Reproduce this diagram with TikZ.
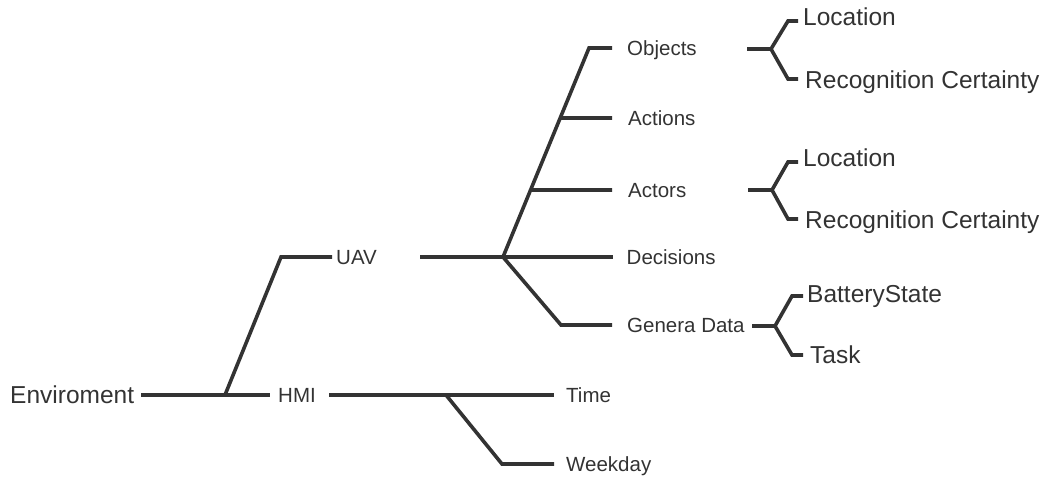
\documentclass[tikz,border=0pt]{standalone}
\usepackage{fontspec}
\setmainfont{Liberation Sans}
\usetikzlibrary{calc}
\definecolor{ink}{HTML}{333333}
\begin{document}
\begin{tikzpicture}[x=1pt,y=-1pt,
  branch/.style={line width=3.6pt, draw=ink},
  biglabel/.style={anchor=base west, inner sep=0pt, text=ink, font=\fontsize{24.5}{28}\selectfont},
  smalllabel/.style={anchor=base west, inner sep=0pt, text=ink, font=\fontsize{20.5}{24}\selectfont}]
\useasboundingbox (0,0) rectangle (1048,477);

% ---- labels ----
\node[biglabel]   (env)  at (10,403.5) {Enviroment};
\node[smalllabel] (uav)  at (336,264)  {UAV};
\node[smalllabel] (hmi)  at (278,402)  {HMI};
\node[smalllabel] (obj)  at (627,55)   {Objects};
\node[smalllabel] (act)  at (628,125)  {Actions};
\node[smalllabel] (acr)  at (628,197)  {Actors};
\node[smalllabel] (dec)  at (626.5,264) {Decisions};
\node[smalllabel] (gen)  at (627,332)  {Genera Data};
\node[smalllabel] (tim)  at (566,402)  {Time};
\node[smalllabel] (wkd)  at (566,471)  {Weekday};
\node[biglabel]   (loc1) at (803,25.5) {Location};
\node[biglabel]   (rec1) at (805,88)   {Recognition Certainty};
\node[biglabel]   (loc2) at (803,166)  {Location};
\node[biglabel]   (rec2) at (805,228)  {Recognition Certainty};
\node[biglabel]   (bat)  at (807,302)  {BatteryState};
\node[biglabel]   (tsk)  at (810,363)  {Task};

% ---- root fork ----
\coordinate (envR) at (141,395);
\coordinate (j0)   at (225,395);
\coordinate (hmiL) at (270,395);
\coordinate (uavC) at (281,257);
\coordinate (uavL) at (332,257);
\draw[branch] (envR) -- (j0) -- (hmiL);
\draw[branch] (j0) -- (uavC) -- (uavL);

% ---- UAV fork ----
\coordinate (uavR) at (420,257);
\coordinate (j1)   at (503,257);
\coordinate (decL) at (613,257);
\coordinate (objC) at (589,48);
\coordinate (objL) at (612,48);
\coordinate (actJ) at ($(j1)!0.665!(objC)$);
\coordinate (acrJ) at ($(j1)!0.3206!(objC)$);
\coordinate (actL) at (612,118);
\coordinate (acrL) at (612,190);
\coordinate (genC) at (561,325);
\coordinate (genL) at (612,325);
\draw[branch] (uavR) -- (j1) -- (decL);
\draw[branch] (j1) -- (objC) -- (objL);
\draw[branch] (actJ) -- (actL);
\draw[branch] (acrJ) -- (acrL);
\draw[branch] (j1) -- (genC) -- (genL);

% ---- HMI fork ----
\coordinate (hmiR) at (329,395);
\coordinate (j2)   at (446,395);
\coordinate (timL) at (554,395);
\coordinate (wkC)  at (502,464);
\coordinate (wkL)  at (554,464);
\draw[branch] (hmiR) -- (j2) -- (timL);
\draw[branch] (j2) -- (wkC) -- (wkL);

% ---- Objects bracket ----
\coordinate (o0) at (747,49);
\coordinate (oj) at (771,49);
\draw[branch] (o0) -- (oj);
\draw[branch] (oj) -- (788,21) coordinate (ou) -- (798,21) coordinate (ouL);
\draw[branch] (oj) -- (788,79) coordinate (od) -- (798,79) coordinate (odL);

% ---- Actors bracket ----
\coordinate (a0) at (748,190);
\coordinate (aj) at (772,190);
\draw[branch] (a0) -- (aj);
\draw[branch] (aj) -- (788,162) coordinate (au) -- (798,162) coordinate (auL);
\draw[branch] (aj) -- (788,219) coordinate (ad) -- (798,219) coordinate (adL);

% ---- Genera Data bracket ----
\coordinate (g0) at (752,326);
\coordinate (gj) at (775,326);
\draw[branch] (g0) -- (gj);
\draw[branch] (gj) -- (792,296) coordinate (gu) -- (803,296) coordinate (guL);
\draw[branch] (gj) -- (792,355) coordinate (gd) -- (803,355) coordinate (gdL);
\end{tikzpicture}
\end{document}
